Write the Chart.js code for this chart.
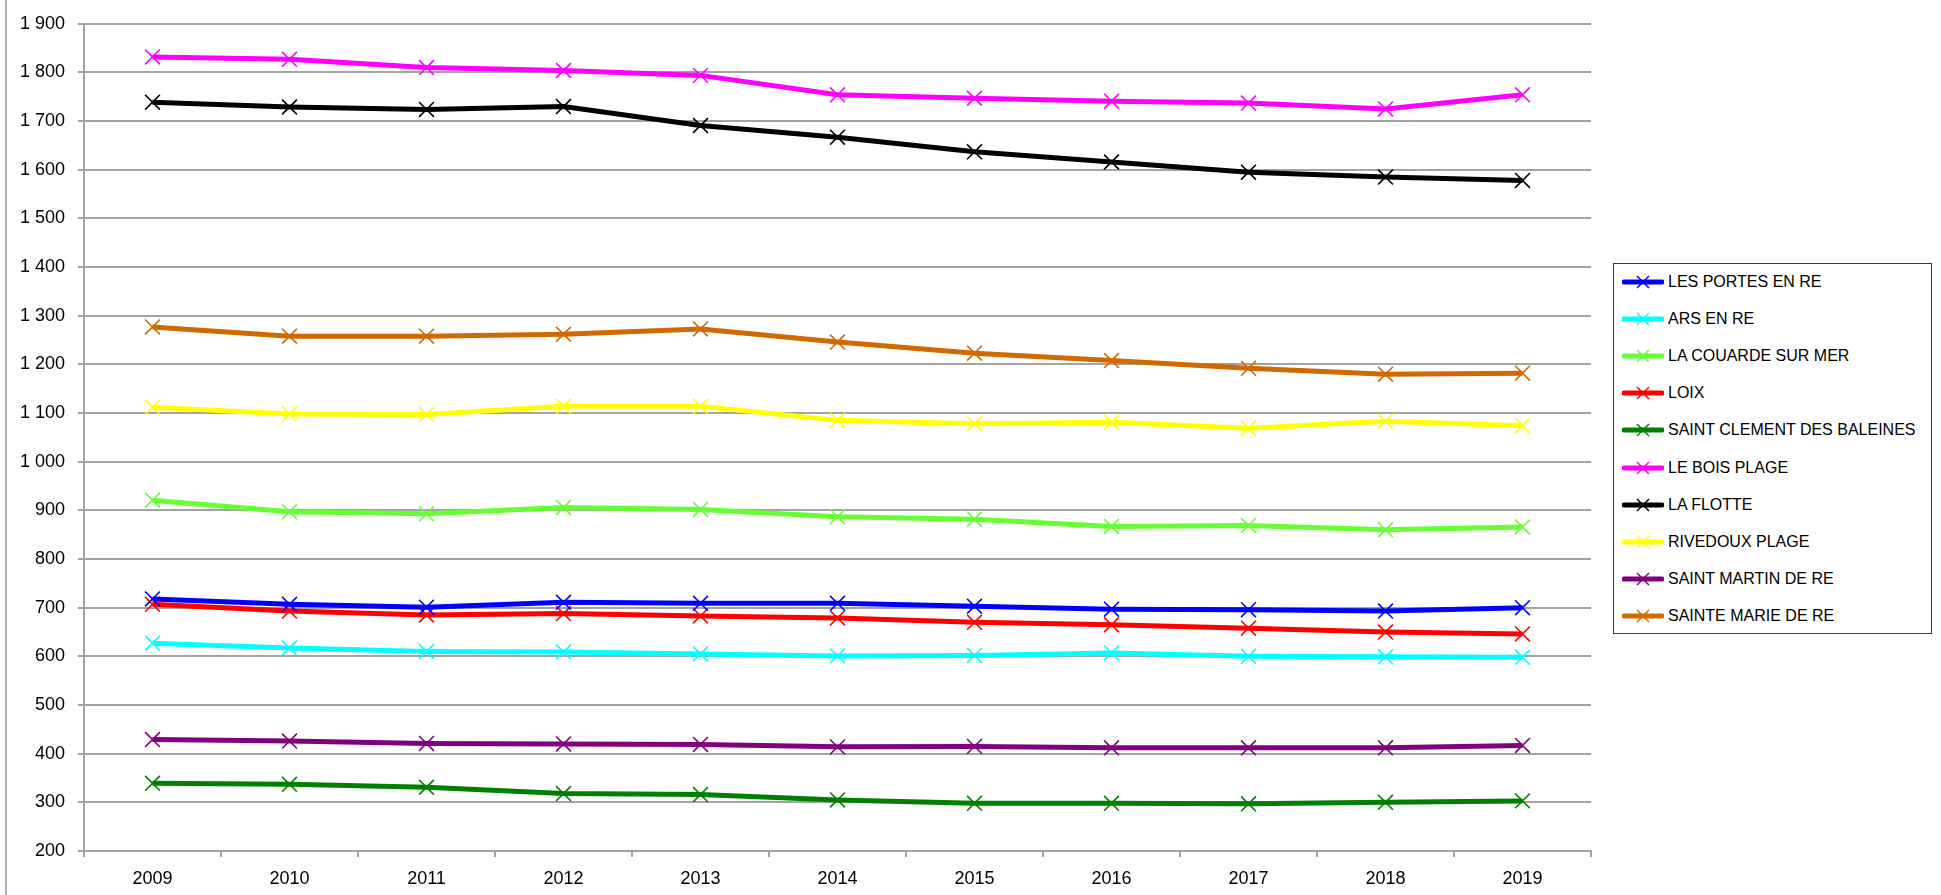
<!DOCTYPE html>
<html>
<head>
<meta charset="utf-8">
<script src="https://cdn.jsdelivr.net/npm/chart.js@4.4.1/dist/chart.umd.min.js"></script>
<style>
  html, body { margin: 0; padding: 0; background: #fff; }
  #wrap { position: relative; width: 1941px; height: 895px; overflow: hidden; }
  #frame { position: absolute; left: 5px; top: 0; width: 2px; height: 895px; background: #b0b0b0; }
  #legend {
    position: absolute; left: 1613px; top: 263px; width: 317px; height: 369px;
    border: 1.5px solid #3a3a3a; background: #fff;
    font-family: 'Liberation Sans', Arial, sans-serif; font-size: 16px; color: #000;
  }
  .row { position: absolute; left: 8px; height: 22px; display: flex; align-items: center; white-space: nowrap; }
  .row svg { margin-right: 4px; }
</style>
</head>
<body>
<div id="wrap">
  <div id="frame"></div>
  <canvas id="chart" width="1941" height="895"></canvas>
  <div id="legend"></div>
</div>
<script>
const years = ['2009', '2010', '2011', '2012', '2013', '2014', '2015', '2016', '2017', '2018', '2019']

const lesPortes = [718, 707, 701, 711, 709, 709, 703, 697, 696, 693, 700]
const arsEnRe = [627, 617, 610, 609, 605, 601, 602, 607, 600, 599, 598]
const laCouarde = [921, 897, 893, 906, 902, 887, 882, 867, 869, 860, 866]
const loix = [707, 693, 685, 688, 683, 679, 670, 665, 658, 650, 646]
const saintClement = [339, 337, 331, 318, 316, 305, 298, 298, 297, 300, 303]
const leBoisPlage = [1832, 1827, 1810, 1804, 1794, 1754, 1747, 1741, 1737, 1725, 1754]
const laFlotte = [1739, 1729, 1724, 1730, 1691, 1667, 1637, 1616, 1595, 1585, 1578]
const rivedoux = [1112, 1098, 1097, 1114, 1114, 1085, 1078, 1081, 1069, 1083, 1074]
const saintMartin = [429, 426, 421, 420, 419, 414, 415, 412, 412, 412, 417]
const sainteMarie = [1277, 1258, 1258, 1262, 1273, 1246, 1223, 1208, 1192, 1180, 1182]

const seriesNames = ['LES PORTES EN RE', 'ARS EN RE', 'LA COUARDE SUR MER', 'LOIX', 'SAINT CLEMENT DES BALEINES',
  'LE BOIS PLAGE', 'LA FLOTTE', 'RIVEDOUX PLAGE', 'SAINT MARTIN DE RE', 'SAINTE MARIE DE RE']
const seriesValues = [lesPortes, arsEnRe, laCouarde, loix, saintClement, leBoisPlage, laFlotte, rivedoux, saintMartin, sainteMarie]
const seriesColors = ['#0000FF', '#00FFFF', '#66FF33', '#FF0000', '#008000', '#FF00FF', '#000000', '#FFFF00', '#800080', '#D06A00']

const yMin = 200
const yMax = 1900
const yStep = 100

const axisFont = { family: "'Liberation Sans', Arial, sans-serif", size: 18 }
const gridColor = '#a3a3a3'

// "1 900" style, french thousands separator
const formatTick = v => {
  const s = String(v)
  return s.length > 3 ? s.slice(0, s.length - 3) + ' ' + s.slice(-3) : s
}

const datasets = seriesNames.map((name, i) => ({
  label: name,
  data: seriesValues[i],
  borderColor: seriesColors[i],
  backgroundColor: seriesColors[i],
  borderWidth: 5,
  tension: 0,
  fill: false,
  pointStyle: 'crossRot',
  pointRadius: 10.5,
  pointBorderWidth: 1.6,
  pointBorderColor: seriesColors[i],
  borderJoinStyle: 'round'
}))

const ctx = document.getElementById('chart')
const myChart = new Chart(ctx, {
  type: 'line',
  data: { labels: years, datasets },
  options: {
    responsive: false,
    animation: false,
    layout: { padding: { top: 19, right: 350, left: 0, bottom: 0 } },
    plugins: {
      legend: { display: false },
      tooltip: { enabled: false }
    },
    scales: {
      x: {
        offset: true,
        afterFit: scale => { scale.height = 44 },
        grid: {
          display: true,
          drawOnChartArea: false,
          offset: true,
          tickLength: 6,
          color: gridColor,
          lineWidth: 2
        },
        border: { display: true, color: gridColor, width: 2 },
        ticks: { font: axisFont, color: '#000', padding: 11, maxRotation: 0 }
      },
      y: {
        min: yMin,
        max: yMax,
        afterFit: scale => { scale.width = 84 },
        grid: { color: gridColor, lineWidth: 2, tickLength: 6 },
        border: { display: true, color: gridColor, width: 2 },
        ticks: {
          stepSize: yStep,
          font: axisFont,
          color: '#000',
          padding: 13,
          callback: v => formatTick(v)
        }
      }
    }
  }
})

// html legend
const legend = document.getElementById('legend')
seriesNames.forEach((name, i) => {
  const row = document.createElement('div')
  row.className = 'row'
  row.style.top = (17.5 + i * 37.2 - 11) + 'px'
  const c = seriesColors[i]
  row.innerHTML =
    '<svg width="42" height="14" viewBox="0 0 42 14">' +
    '<line x1="2" y1="7" x2="40" y2="7" stroke="' + c + '" stroke-width="5" stroke-linecap="round"/>' +
    '<line x1="15" y1="1" x2="27" y2="13" stroke="' + c + '" stroke-width="1.5"/>' +
    '<line x1="27" y1="1" x2="15" y2="13" stroke="' + c + '" stroke-width="1.5"/>' +
    '</svg><span>' + name + '</span>'
  legend.appendChild(row)
})
</script>
</body>
</html>
